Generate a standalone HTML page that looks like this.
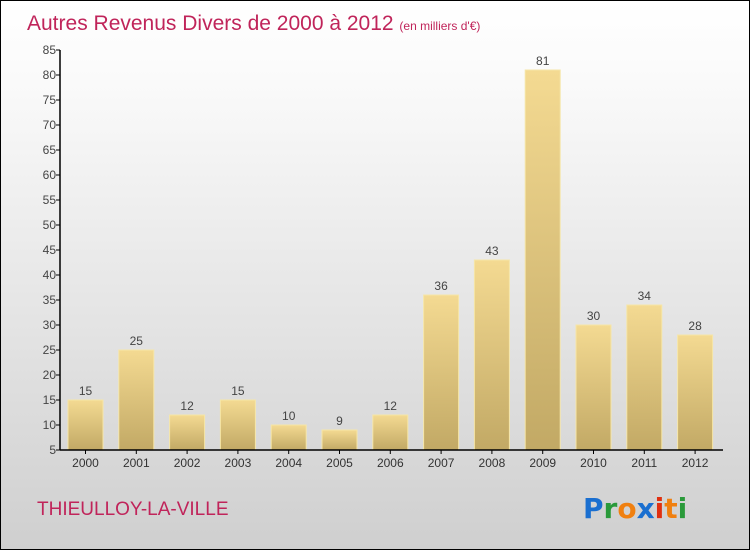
<!DOCTYPE html>
<html><head><meta charset="utf-8"><style>
body{margin:0}
#wrap{position:relative;width:748px;height:548px;border:1px solid #000;background:linear-gradient(#ffffff,#fafafa 15%,#cfcfcf);overflow:hidden;font-family:"Liberation Sans",sans-serif}
</style></head><body>
<div id="wrap">
<svg id="c" width="748" height="548">
<defs>
<linearGradient id="g" x1="0" y1="0" x2="0" y2="1"><stop offset="0" stop-color="#f4da92"/><stop offset="1" stop-color="#c2a965"/></linearGradient>
</defs>
<text x="26" y="29" font-size="21" fill="#c0245a">Autres Revenus Divers de 2000 à 2012 <tspan font-size="12">(en milliers d'€)</tspan></text>
<text x="36" y="514" font-size="19" fill="#c0245a">THIEULLOY-LA-VILLE</text>
<g font-size="28" font-weight="bold" font-family="'DejaVu Sans',sans-serif">
<text x="582" y="517"><tspan fill="#1a6fd0">P</tspan><tspan fill="#2a9a3a">r</tspan><tspan fill="#f08010">o</tspan><tspan fill="#1a6fd0">x</tspan><tspan fill="#e03010">i</tspan><tspan fill="#f08010">t</tspan><tspan fill="#2a9a3a">i</tspan></text>
</g>
<g id="plot"></g>
</svg>
</div>
<script>
const years=["2000","2001","2002","2003","2004","2005","2006","2007","2008","2009","2010","2011","2012"];
const values=[15,25,12,15,10,9,12,36,43,81,30,34,28];
const yTicks=[5,10,15,20,25,30,35,40,45,50,55,60,65,70,75,80,85];
const NS="http://www.w3.org/2000/svg";
const plot=document.getElementById('plot');
const x0=59,yMin=5,yMax=85,yTop=49,yBot=449;
function y(v){return yBot-(v-yMin)/(yMax-yMin)*(yBot-yTop);}
function xc(i){return 84.5+i*50.8;}
function mk(t,a){const e=document.createElementNS(NS,t);for(const k in a)e.setAttribute(k,a[k]);plot.appendChild(e);return e;}
values.forEach((v,i)=>{
 const r=mk('rect',{x:xc(i)-17.5,y:y(v),width:35,height:yBot-y(v),fill:'url(#g)',stroke:'#f6e6a8','stroke-width':1});
 
 
 const t=mk('text',{x:xc(i),y:y(v)-5,'text-anchor':'middle','font-size':12,fill:'#444'});
 t.textContent=v;
 
 
 const l=mk('text',{x:xc(i),y:466,'text-anchor':'middle','font-size':12,fill:'#333'});
 l.textContent=years[i];
 
 
 mk('line',{x1:xc(i),x2:xc(i),y1:yBot,y2:yBot+4,stroke:'#000'});
});
yTicks.forEach(v=>{
 mk('line',{x1:x0-4,x2:x0,y1:y(v),y2:y(v),stroke:'#000'});
 const t=mk('text',{x:x0-4,y:y(v)+4,'text-anchor':'end','font-size':12,fill:'#444'});
 t.textContent=v;
 
 
});
const ya=mk('line',{x1:x0,x2:x0,y1:yTop,y2:yBot,stroke:'#000','stroke-width':1.5});


const xa=mk('line',{x1:x0,x2:722,y1:yBot,y2:yBot,stroke:'#000','stroke-width':1.5});


</script>
</body></html>
